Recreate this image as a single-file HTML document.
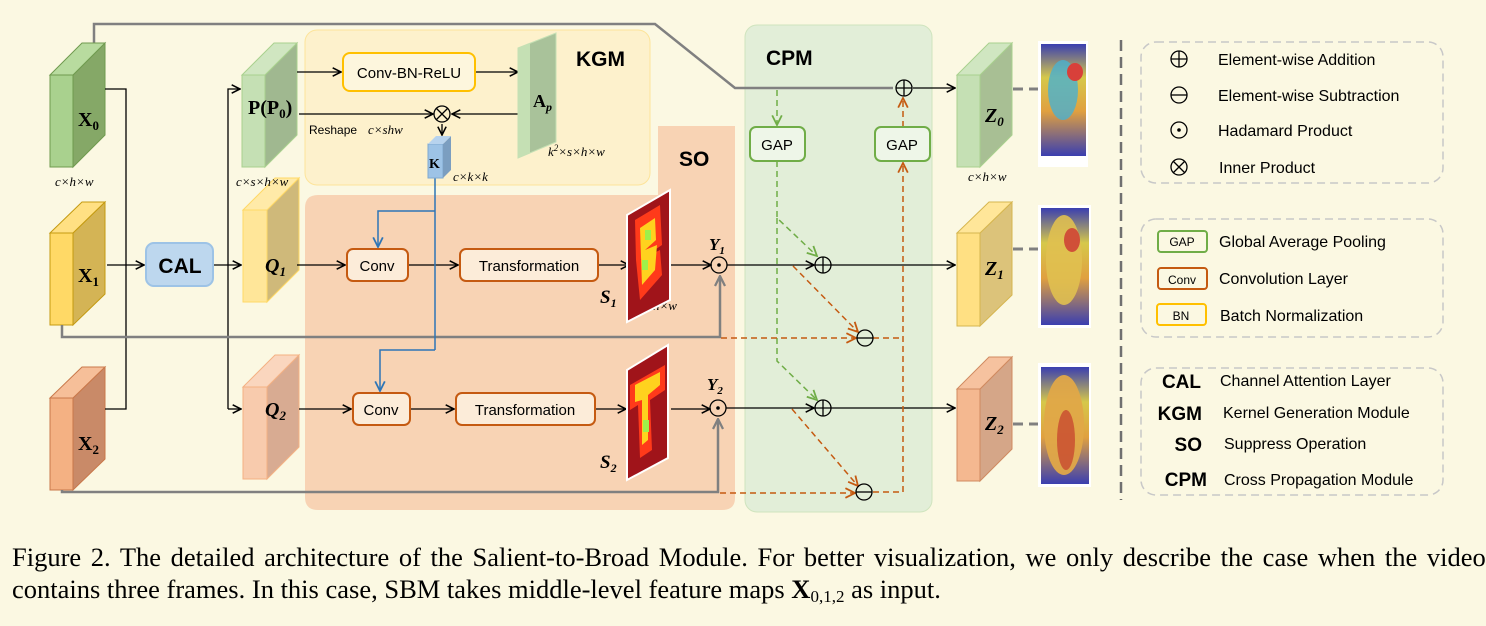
<!DOCTYPE html>
<html><head><meta charset="utf-8"><style>
body{margin:0;background:#fbf8e2;}
svg{display:block;}
text{font-family:"Liberation Sans",sans-serif;}
.serif{font-family:"Liberation Serif",serif;}
</style></head><body>
<svg width="1486" height="626" viewBox="0 0 1486 626" xmlns="http://www.w3.org/2000/svg">
<defs>
<marker id="a" viewBox="0 0 10 10" refX="9" refY="5" markerWidth="8" markerHeight="8" orient="auto-start-reverse"><path d="M1,1 L9,5 L1,9" fill="none" stroke="#000" stroke-width="1.5"/></marker>
<marker id="ag" viewBox="0 0 10 10" refX="9" refY="5" markerWidth="5" markerHeight="5" orient="auto"><path d="M1,1 L9,5 L1,9" fill="none" stroke="#808080" stroke-width="1.8"/></marker>
<marker id="ab" viewBox="0 0 10 10" refX="9" refY="5" markerWidth="8" markerHeight="8" orient="auto"><path d="M1,1 L9,5 L1,9" fill="none" stroke="#2e75b6" stroke-width="1.5"/></marker>
<marker id="ao" viewBox="0 0 10 10" refX="9" refY="5" markerWidth="8" markerHeight="8" orient="auto"><path d="M1,1 L9,5 L1,9" fill="none" stroke="#c55a11" stroke-width="1.5"/></marker>
<marker id="agr" viewBox="0 0 10 10" refX="9" refY="5" markerWidth="8" markerHeight="8" orient="auto"><path d="M1,1 L9,5 L1,9" fill="none" stroke="#70ad47" stroke-width="1.5"/></marker>
<linearGradient id="hm" x1="0" y1="0" x2="0" y2="1"><stop offset="0" stop-color="#3a3fb0"/><stop offset="0.3" stop-color="#d6c84a"/><stop offset="0.6" stop-color="#e0a040"/><stop offset="1" stop-color="#3a3fb0"/></linearGradient>
</defs>
<rect width="1486" height="626" fill="#fbf8e2"/>

<rect x="305" y="30" width="345" height="155" rx="12" fill="#fdf1cc" stroke="#fde49a"/>
<path d="M318,195 H658 V126 H735 V498 Q735,510 722,510 H318 Q305,510 305,497 V208 Q305,195 318,195Z" fill="#f8d3b4"/>
<rect x="745" y="25" width="187" height="487" rx="12" fill="#e2eed8" stroke="#cfe4be"/>

<polyline points="94,44 94,24 655,24 735,88 893,88" fill="none" stroke="#808080" stroke-width="2.5"/>
<line x1="913" y1="88" x2="955" y2="88" stroke="#000" stroke-width="1.3" marker-end="url(#a)"/>

<g stroke-width="1">
<g stroke="#6f9a4f"><rect x="50" y="75" width="23" height="92" fill="#a9d18e"/><polygon points="73,75 105,43 105,135 73,167" fill="#85a867"/><polygon points="50,75 82,43 105,43 73,75" fill="#b8db9f"/></g>
<g stroke="#c49a10"><rect x="50" y="233" width="23" height="92" fill="#ffd966"/><polygon points="73,233 105,202 105,294 73,325" fill="#d4b455"/><polygon points="50,233 82,202 105,202 73,233" fill="#ffe083"/></g>
<g stroke="#c9784a"><rect x="50" y="398" width="23" height="92" fill="#f4b183"/><polygon points="73,398 105,367 105,459 73,490" fill="#c98a68"/><polygon points="50,398 82,367 105,367 73,398" fill="#f6bf99"/></g>
<g stroke="#a9d18e"><rect x="242" y="75" width="23" height="92" fill="#c5e0b4"/><polygon points="265,75 297,43 297,135 265,167" fill="#a0b890"/><polygon points="242,75 274,43 297,43 265,75" fill="#d0e6c1"/></g>
<g stroke="#ffd966"><rect x="243" y="210" width="24" height="92" fill="#ffe699"/><polygon points="267,210 299,178 299,270 267,302" fill="#cfb97a"/><polygon points="243,210 275,178 299,178 267,210" fill="#ffeaa8"/></g>
<g stroke="#f4b183"><rect x="243" y="387" width="24" height="92" fill="#f8cbad"/><polygon points="267,387 299,355 299,447 267,479" fill="#d8ab92"/><polygon points="243,387 275,355 299,355 267,387" fill="#fad6be"/></g>
<g stroke="#a9d18e"><rect x="957" y="75" width="23" height="92" fill="#c5e0b4"/><polygon points="980,75 1012,43 1012,135 980,167" fill="#a8bf94"/><polygon points="957,75 989,43 1012,43 980,75" fill="#d0e6c1"/></g>
<g stroke="#d6b64f"><rect x="957" y="233" width="23" height="93" fill="#ffe083"/><polygon points="980,233 1012,202 1012,295 980,326" fill="#dcc37a"/><polygon points="957,233 989,202 1012,202 980,233" fill="#ffe699"/></g>
<g stroke="#d08a60"><rect x="957" y="389" width="23" height="92" fill="#f4b890"/><polygon points="980,389 1012,357 1012,449 980,481" fill="#d5a688"/><polygon points="957,389 989,357 1012,357 980,389" fill="#f6c29f"/></g>
</g>
<g class="serif" font-weight="bold" font-size="20" fill="#000">
<text x="78" y="126" class="serif">X<tspan font-size="13" dy="4">0</tspan></text>
<text x="78" y="282" class="serif">X<tspan font-size="13" dy="4">1</tspan></text>
<text x="78" y="450" class="serif">X<tspan font-size="13" dy="4">2</tspan></text>
<text x="248" y="114" class="serif">P(P<tspan font-size="13" dy="4">0</tspan><tspan dy="-4">)</tspan></text>
<text x="265" y="272" class="serif" font-style="italic">Q<tspan font-size="13" dy="4">1</tspan></text>
<text x="265" y="416" class="serif" font-style="italic">Q<tspan font-size="13" dy="4">2</tspan></text>
<text x="985" y="122" class="serif" font-style="italic">Z<tspan font-size="13" dy="4">0</tspan></text>
<text x="985" y="275" class="serif" font-style="italic">Z<tspan font-size="13" dy="4">1</tspan></text>
<text x="985" y="430" class="serif" font-style="italic">Z<tspan font-size="13" dy="4">2</tspan></text>
</g>
<g class="serif" font-style="italic" font-size="13" fill="#000">
<text x="55" y="186" class="serif">c×h×w</text>
<text x="236" y="186" class="serif">c×s×h×w</text>
<text x="968" y="181" class="serif">c×h×w</text>
<text x="453" y="181" class="serif">c×k×k</text>
<text x="548" y="156" class="serif">k<tspan font-size="9" dy="-5">2</tspan><tspan dy="5">×s×h×w</tspan></text>
<text x="653" y="310" class="serif">h×w</text>
<text x="368" y="134" class="serif">c×shw</text>
</g>
<text x="309" y="134" font-size="12">Reshape</text>

<g stroke="#000" stroke-width="1.3" fill="none">
<polyline points="105,89 126,89 126,409 105,409"/>
<line x1="107" y1="265" x2="144" y2="265" marker-end="url(#a)"/>
<line x1="213" y1="265" x2="241" y2="265" marker-end="url(#a)"/>
<polyline points="228,409 228,89 240,89" marker-end="url(#a)"/>
<line x1="228" y1="409" x2="241" y2="409" marker-end="url(#a)"/>
<line x1="297" y1="72" x2="341" y2="72" marker-end="url(#a)"/>
<polyline points="475,72 518,72" marker-end="url(#a)"/>
<line x1="299" y1="114" x2="433" y2="114" marker-end="url(#a)"/>
<line x1="518" y1="114" x2="452" y2="114" marker-end="url(#a)"/>
<line x1="442" y1="124" x2="442" y2="135" marker-end="url(#a)"/>
<line x1="297" y1="265" x2="345" y2="265" marker-end="url(#a)"/>
<line x1="408" y1="265" x2="458" y2="265" marker-end="url(#a)"/>
<line x1="598" y1="265" x2="629" y2="265" marker-end="url(#a)"/>
<line x1="671" y1="265" x2="711" y2="265" marker-end="url(#a)"/>
<line x1="727" y1="265" x2="814" y2="265" marker-end="url(#a)"/>
<line x1="831" y1="265" x2="955" y2="265" marker-end="url(#a)"/>
<line x1="299" y1="409" x2="351" y2="409" marker-end="url(#a)"/>
<line x1="410" y1="409" x2="454" y2="409" marker-end="url(#a)"/>
<line x1="595" y1="409" x2="626" y2="409" marker-end="url(#a)"/>
<line x1="671" y1="409" x2="710" y2="409" marker-end="url(#a)"/>
<line x1="726" y1="408" x2="814" y2="408" marker-end="url(#a)"/>
<line x1="831" y1="408" x2="955" y2="408" marker-end="url(#a)"/>
</g>
<g stroke="#808080" stroke-width="2.5" fill="none">
<polyline points="62,325 62,337 720,337 720,276" marker-end="url(#ag)"/>
<polyline points="62,490 62,492 718,492 718,419" marker-end="url(#ag)"/>
</g>
<g stroke="#2e75b6" stroke-width="1.5" fill="none">
<line x1="435" y1="178" x2="435" y2="350"/>
<polyline points="435,211 378,211 378,247" marker-end="url(#ab)"/>
<polyline points="435,350 380,350 380,391" marker-end="url(#ab)"/>
</g>
<g stroke="#70ad47" stroke-width="1.5" fill="none" stroke-dasharray="6,4">
<line x1="777" y1="90" x2="777" y2="125" marker-end="url(#agr)"/>
<polyline points="777,161 777,218 817,256" marker-end="url(#agr)"/>
<polyline points="777,218 777,361 817,400" marker-end="url(#agr)"/>
</g>
<g stroke="#c55a11" stroke-width="1.5" fill="none" stroke-dasharray="6,4">
<line x1="793" y1="266" x2="858" y2="332" marker-end="url(#ao)"/>
<line x1="792" y1="409" x2="858" y2="486" marker-end="url(#ao)"/>
<line x1="721" y1="338" x2="856" y2="338" marker-end="url(#ao)"/>
<line x1="720" y1="493" x2="855" y2="493" marker-end="url(#ao)"/>
<polyline points="873,338 903,338"/>
<polyline points="873,492 903,492 903,163" marker-end="url(#ao)"/>
<line x1="903" y1="127" x2="903" y2="98" marker-end="url(#ao)"/>
</g>

<rect x="146" y="243" width="67" height="43" rx="8" fill="#bdd7ee" stroke="#9dc3e6" stroke-width="2"/>
<text x="180" y="273" font-size="21" font-weight="bold" text-anchor="middle">CAL</text>
<rect x="343" y="53" width="132" height="38" rx="7" fill="#fdf6dd" stroke="#ffc000" stroke-width="2"/>
<text x="409" y="78" font-size="15" text-anchor="middle">Conv-BN-ReLU</text>
<g fill="#fcecd9" stroke="#c55a11" stroke-width="2">
<rect x="347" y="249" width="61" height="32" rx="6"/><rect x="460" y="249" width="138" height="32" rx="6"/>
<rect x="353" y="393" width="57" height="32" rx="6"/><rect x="456" y="393" width="139" height="32" rx="6"/>
</g>
<g font-size="15" text-anchor="middle">
<text x="377" y="271">Conv</text><text x="529" y="271">Transformation</text>
<text x="381" y="415">Conv</text><text x="525" y="415">Transformation</text>
</g>
<g fill="#eef6e8" stroke="#70ad47" stroke-width="2">
<rect x="750" y="127" width="55" height="34" rx="6"/><rect x="875" y="127" width="55" height="34" rx="6"/>
</g>
<text x="777" y="150" font-size="15" text-anchor="middle">GAP</text>
<text x="902" y="150" font-size="15" text-anchor="middle">GAP</text>

<polygon points="518,48 556,33 556,142 518,158" fill="#a9c29a" stroke="#c5e0b4"/>
<polygon points="518,48 530,43 530,153 518,158" fill="#c5e0b4"/>
<text x="533" y="107" class="serif" font-weight="bold" font-size="18">A<tspan font-style="italic" font-size="12" dy="4">p</tspan></text>
<rect x="428" y="144" width="15" height="34" fill="#9dc3e6" stroke="#7fa9d0"/>
<polygon points="443,144 451,136 451,170 443,178" fill="#7b9ec0"/>
<polygon points="428,144 436,136 451,136 443,144" fill="#b7d3ee"/>
<text x="429" y="168" class="serif" font-weight="bold" font-size="14">K</text>

<polygon points="627,215 670,190 670,300 627,322" fill="#a0141a" stroke="#fff" stroke-width="2"/>
<polygon points="635,220 660,205 662,245 640,260 660,250 662,275 640,300 636,260" fill="#ff3a1a"/>
<polygon points="640,228 655,218 656,240 645,250 657,245 655,270 642,285" fill="#ffd21e"/>
<rect x="645" y="230" width="6" height="10" fill="#9ef04a"/><rect x="642" y="260" width="6" height="10" fill="#9ef04a"/>
<polygon points="627,370 668,345 668,458 627,480" fill="#a0141a" stroke="#fff" stroke-width="2"/>
<polygon points="630,385 665,365 665,390 650,400 652,450 640,458 638,405 630,410" fill="#ff3a1a"/>
<polygon points="635,385 660,372 660,385 648,395 648,440 642,445 642,400 635,402" fill="#ffd21e"/>
<rect x="643" y="420" width="6" height="12" fill="#9ef04a"/>
<text x="600" y="303" class="serif" font-weight="bold" font-style="italic" font-size="19">S<tspan font-size="12" dy="4">1</tspan></text>
<text x="600" y="468" class="serif" font-weight="bold" font-style="italic" font-size="19">S<tspan font-size="12" dy="4">2</tspan></text>
<text x="709" y="250" class="serif" font-weight="bold" font-style="italic" font-size="17">Y<tspan font-size="11" dy="4">1</tspan></text>
<text x="707" y="390" class="serif" font-weight="bold" font-style="italic" font-size="17">Y<tspan font-size="11" dy="4">2</tspan></text>

<g fill="none" stroke="#000" stroke-width="1.3">
<circle cx="442" cy="114" r="8"/><path d="M436,108 L448,120 M448,108 L436,120"/>
<circle cx="719" cy="265" r="8"/><circle cx="718" cy="408" r="8"/>
<circle cx="823" cy="265" r="8"/><path d="M815,265 H831 M823,257 V273"/>
<circle cx="823" cy="408" r="8"/><path d="M815,408 H831 M823,400 V416"/>
<circle cx="904" cy="88" r="8"/><path d="M896,88 H912 M904,80 V96"/>
<circle cx="865" cy="338" r="8"/><path d="M857,338 H873"/>
<circle cx="864" cy="492" r="8"/><path d="M856,492 H872"/>
</g>
<circle cx="719" cy="265" r="1.8"/><circle cx="718" cy="408" r="1.8"/>

<g font-weight="bold" font-size="21">
<text x="576" y="66">KGM</text><text x="679" y="166">SO</text><text x="766" y="65">CPM</text>
</g>

<g stroke="#808080" stroke-width="3" stroke-dasharray="10,6">
<line x1="1013" y1="89" x2="1040" y2="89"/><line x1="1013" y1="249" x2="1040" y2="249"/><line x1="1013" y1="424" x2="1040" y2="424"/>
</g>
<rect x="1038" y="41" width="50" height="126" fill="#fff"/><rect x="1041" y="44" width="45" height="112" fill="url(#hm)"/>
<ellipse cx="1063" cy="90" rx="15" ry="30" fill="#4ab0d0" opacity="0.8"/><ellipse cx="1075" cy="72" rx="8" ry="9" fill="#d8403a"/>
<rect x="1038" y="205" width="53" height="123" fill="#fff"/><rect x="1041" y="208" width="48" height="117" fill="url(#hm)"/>
<ellipse cx="1064" cy="260" rx="18" ry="45" fill="#e0c050" opacity="0.9"/><ellipse cx="1072" cy="240" rx="8" ry="12" fill="#d05038"/>
<rect x="1038" y="363" width="53" height="124" fill="#fff"/><rect x="1041" y="367" width="48" height="117" fill="url(#hm)"/>
<ellipse cx="1064" cy="425" rx="20" ry="50" fill="#e0a848" opacity="0.95"/><ellipse cx="1066" cy="440" rx="9" ry="30" fill="#c84a30" opacity="0.8"/>

<line x1="1121" y1="40" x2="1121" y2="500" stroke="#707070" stroke-width="2.5" stroke-dasharray="11,6"/>

<g fill="none" stroke="#c8c8c8" stroke-width="1.5" stroke-dasharray="8,5">
<rect x="1141" y="42" width="302" height="141" rx="15"/><rect x="1141" y="219" width="302" height="118" rx="15"/><rect x="1141" y="368" width="302" height="127" rx="15"/>
</g>
<g fill="none" stroke="#000" stroke-width="1.3">
<circle cx="1179" cy="59" r="8"/><path d="M1171,59 H1187 M1179,51 V67"/>
<circle cx="1179" cy="95" r="8"/><path d="M1171,95 H1187"/>
<circle cx="1179" cy="130" r="8"/>
<circle cx="1179" cy="167" r="8"/><path d="M1173,161 L1185,173 M1185,161 L1173,173"/>
</g>
<circle cx="1179" cy="130" r="1.8"/>
<g font-size="16">
<text x="1218" y="65">Element-wise Addition</text>
<text x="1218" y="101">Element-wise Subtraction</text>
<text x="1218" y="136">Hadamard Product</text>
<text x="1219" y="173">Inner Product</text>
<text x="1219" y="247">Global Average Pooling</text>
<text x="1219" y="284">Convolution Layer</text>
<text x="1220" y="321">Batch Normalization</text>
<text x="1220" y="386">Channel Attention Layer</text>
<text x="1223" y="418">Kernel Generation Module</text>
<text x="1224" y="449">Suppress Operation</text>
<text x="1224" y="485">Cross Propagation Module</text>
</g>
<rect x="1158" y="231" width="49" height="21" rx="3" fill="none" stroke="#70ad47" stroke-width="2"/>
<rect x="1158" y="268" width="49" height="21" rx="3" fill="none" stroke="#c55a11" stroke-width="2"/>
<rect x="1157" y="304" width="49" height="21" rx="3" fill="none" stroke="#ffc000" stroke-width="2"/>
<g font-size="12" text-anchor="middle"><text x="1182" y="246">GAP</text><text x="1182" y="284">Conv</text><text x="1181" y="320">BN</text></g>
<g font-weight="bold" font-size="19" text-anchor="end">
<text x="1201" y="388">CAL</text><text x="1202" y="420">KGM</text><text x="1202" y="451">SO</text><text x="1207" y="486">CPM</text>
</g>

<g class="serif" font-size="26.5" fill="#000">
<text x="12" y="566" class="serif" word-spacing="3">Figure 2.  The detailed architecture of the Salient-to-Broad Module.  For better visualization, we only describe the case when the video</text>
<text x="12" y="598" class="serif">contains three frames. In this case, SBM takes middle-level feature maps <tspan font-weight="bold">X</tspan><tspan font-size="17" dy="4">0,1,2</tspan><tspan dy="-4"> as input.</tspan></text>
</g>
</svg>
</body></html>
